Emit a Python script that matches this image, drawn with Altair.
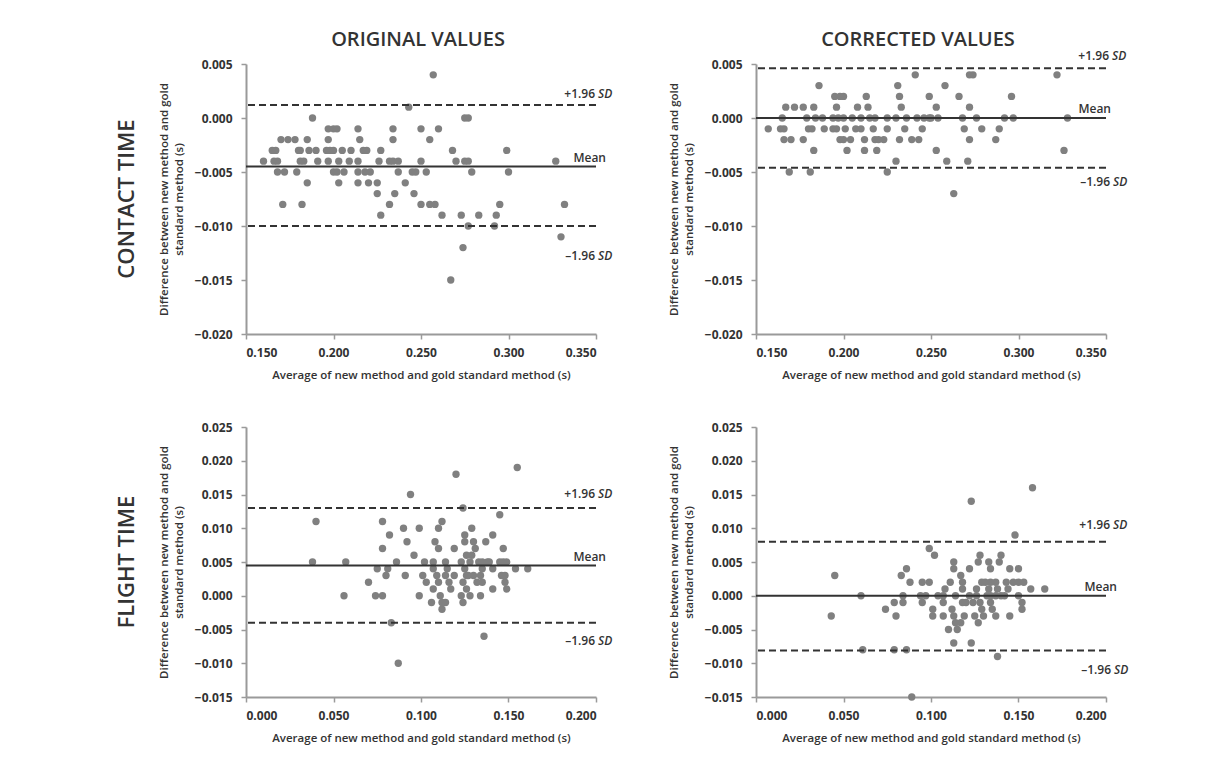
import altair as alt
import pandas as pd

FONT = "Open Sans"
TEXT_COLOR = "#333333"
POINT_COLOR = "#808080"
AXIS_COLOR = "#9a9a9a"

X_TITLE = "Average of new method and gold standard method (s)"
Y_TITLE = ["Difference between new method and gold", "standard method (s)"]

# ---------------- data: {difference: [averages]} ----------------
CT_ORIG = {
    0.004: [0.257],
    0.001: [0.243],
    0.000: [0.188, 0.275, 0.277],
    -0.001: [0.197, 0.200, 0.202, 0.214, 0.234, 0.250, 0.260],
    -0.002: [0.170, 0.174, 0.178, 0.185, 0.197, 0.215, 0.234, 0.255],
    -0.003: [0.165, 0.167, 0.180, 0.181, 0.186, 0.190, 0.196, 0.198, 0.200, 0.205,
             0.210, 0.217, 0.219, 0.227, 0.268, 0.299],
    -0.004: [0.160, 0.166, 0.168, 0.181, 0.183, 0.191, 0.197, 0.203, 0.209, 0.214,
             0.226, 0.232, 0.234, 0.237, 0.250, 0.270, 0.275, 0.277, 0.327],
    -0.005: [0.168, 0.172, 0.179, 0.200, 0.202, 0.206, 0.214, 0.218, 0.221, 0.237,
             0.245, 0.247, 0.253, 0.279, 0.300],
    -0.006: [0.185, 0.203, 0.214, 0.220, 0.225, 0.241],
    -0.007: [0.225, 0.235, 0.246],
    -0.008: [0.171, 0.182, 0.232, 0.250, 0.255, 0.258, 0.295, 0.332],
    -0.009: [0.227, 0.262, 0.273, 0.283, 0.293],
    -0.010: [0.277, 0.292],
    -0.011: [0.330],
    -0.012: [0.274],
    -0.015: [0.267],
}

CT_CORR = {
    0.004: [0.241, 0.272, 0.274, 0.322],
    0.003: [0.186, 0.231, 0.258],
    0.002: [0.195, 0.198, 0.200, 0.213, 0.232, 0.249, 0.266, 0.296],
    0.001: [0.167, 0.172, 0.177, 0.183, 0.196, 0.208, 0.214, 0.233, 0.253, 0.272],
    0.000: [0.165, 0.179, 0.184, 0.188, 0.194, 0.197, 0.200, 0.205, 0.210, 0.215,
            0.218, 0.225, 0.230, 0.236, 0.242, 0.246, 0.249, 0.250, 0.254, 0.268,
            0.276, 0.292, 0.297, 0.328],
    -0.001: [0.157, 0.164, 0.166, 0.180, 0.182, 0.189, 0.194, 0.196, 0.201, 0.207,
             0.210, 0.217, 0.225, 0.235, 0.245, 0.269, 0.279, 0.289],
    -0.002: [0.166, 0.170, 0.177, 0.198, 0.200, 0.204, 0.212, 0.218, 0.220, 0.223,
             0.232, 0.239, 0.243, 0.272, 0.287],
    -0.003: [0.183, 0.202, 0.212, 0.219, 0.253, 0.326],
    -0.004: [0.230, 0.259, 0.271],
    -0.005: [0.169, 0.181, 0.225],
    -0.007: [0.263],
}

FT_ORIG = {
    0.019: [0.155],
    0.018: [0.120],
    0.015: [0.094],
    0.013: [0.124],
    0.012: [0.145],
    0.011: [0.040, 0.078, 0.112],
    0.010: [0.090, 0.099, 0.110, 0.129],
    0.009: [0.082, 0.125, 0.141],
    0.008: [0.092, 0.108, 0.125, 0.130, 0.137],
    0.007: [0.078, 0.110, 0.119, 0.131, 0.147],
    0.006: [0.096, 0.126, 0.129],
    0.005: [0.038, 0.057, 0.086, 0.102, 0.107, 0.114, 0.123, 0.128, 0.133, 0.135,
            0.138, 0.139, 0.145, 0.147, 0.149],
    0.004: [0.075, 0.081, 0.107, 0.115, 0.125, 0.135, 0.141, 0.154, 0.161],
    0.003: [0.080, 0.091, 0.101, 0.109, 0.114, 0.119, 0.126, 0.127, 0.130, 0.134,
            0.146, 0.148],
    0.002: [0.070, 0.103, 0.110, 0.116, 0.124, 0.132, 0.135, 0.148],
    0.001: [0.107, 0.117, 0.126, 0.141, 0.149],
    0.000: [0.056, 0.074, 0.078, 0.099, 0.111, 0.123, 0.128, 0.134],
    -0.001: [0.106, 0.112, 0.114, 0.124],
    -0.002: [0.112],
    -0.004: [0.083],
    -0.006: [0.136],
    -0.010: [0.087],
}

FT_CORR = {
    0.016: [0.158],
    0.014: [0.123],
    0.009: [0.148],
    0.007: [0.099],
    0.006: [0.102, 0.128, 0.140],
    0.005: [0.113, 0.127, 0.133, 0.139],
    0.004: [0.086, 0.113, 0.122, 0.134, 0.145, 0.150],
    0.003: [0.045, 0.083, 0.117],
    0.002: [0.088, 0.095, 0.099, 0.111, 0.118, 0.129, 0.131, 0.134, 0.137, 0.143,
            0.147, 0.150, 0.153],
    0.001: [0.108, 0.118, 0.126, 0.133, 0.138, 0.144, 0.157, 0.165],
    0.000: [0.060, 0.084, 0.094, 0.097, 0.104, 0.107, 0.114, 0.122, 0.126, 0.132,
            0.134, 0.137, 0.140, 0.142, 0.150],
    -0.001: [0.079, 0.084, 0.095, 0.107, 0.118, 0.120, 0.124, 0.128, 0.134, 0.152],
    -0.002: [0.074, 0.101, 0.112, 0.129, 0.135, 0.152],
    -0.003: [0.043, 0.080, 0.101, 0.107, 0.113, 0.119, 0.125, 0.130, 0.137, 0.145],
    -0.004: [0.114, 0.117, 0.127],
    -0.005: [0.110, 0.115],
    -0.007: [0.113, 0.123],
    -0.008: [0.061, 0.079, 0.086],
    -0.009: [0.138],
    -0.015: [0.089],
}

# limits of agreement: [mean, +1.96 SD, -1.96 SD]
CT_ORIG_LIMITS = [-0.0045, 0.0012, -0.0100]
CT_CORR_LIMITS = [0.0000, 0.0046, -0.0046]
FT_ORIG_LIMITS = [0.0045, 0.0130, -0.0040]
FT_CORR_LIMITS = [0.0000, 0.0080, -0.0081]

CT_X_DOMAIN = [0.150, 0.350]
CT_X_TICKS = [0.150, 0.200, 0.250, 0.300, 0.350]
CT_Y_DOMAIN = [-0.020, 0.005]
CT_Y_TICKS = [-0.020, -0.015, -0.010, -0.005, 0.000, 0.005]
FT_X_DOMAIN = [0.000, 0.200]
FT_X_TICKS = [0.000, 0.050, 0.100, 0.150, 0.200]
FT_Y_DOMAIN = [-0.015, 0.025]
FT_Y_TICKS = [-0.015, -0.010, -0.005, 0.000, 0.005, 0.010, 0.015, 0.020, 0.025]

# label placement (right-end offset px, vertical offset px) for +SD, Mean, -SD
TL_LABELS = [(18, -11), (10, -9), (18, 30)]
TR_LABELS = [(22, -12), (5, -9), (23, 14)]
BL_LABELS = [(18, -14), (10, -8), (18, 18)]
BR_LABELS = [(23, -17), (11, -9), (24, 20)]

SD_W = 16
W, H = 350, 270


def panel(rows, xdom, xticks, ydom, yticks, limits, labels, header=None, header_x=175, row_label=None):
    pts = pd.DataFrame([{"avg": a, "diff": d} for d, avgs in rows.items() for a in avgs])
    x = alt.X("avg:Q", scale=alt.Scale(domain=xdom, nice=False, zero=False),
              axis=alt.Axis(values=xticks, format=".3f", title=X_TITLE))
    y = alt.Y("diff:Q", scale=alt.Scale(domain=ydom, nice=False, zero=False),
              axis=alt.Axis(values=yticks, format=".3f", title=Y_TITLE))
    mean, upper, lower = limits
    layers = [
        alt.Chart(pts).mark_circle(size=54, color=POINT_COLOR, opacity=1).encode(x=x, y=y),
        alt.Chart(pd.DataFrame({"diff": [upper, lower]})).mark_rule(
            color=TEXT_COLOR, strokeWidth=2, strokeDash=[7, 4]).encode(y=y),
        alt.Chart(pd.DataFrame({"diff": [mean]})).mark_rule(
            color=TEXT_COLOR, strokeWidth=2).encode(y=y),
    ]
    txt = dict(font=FONT, fontSize=12, fontWeight=600, color=TEXT_COLOR, baseline="middle")
    for (val, word, (r, dy)) in [(upper, "+1.96", labels[0]), (mean, "Mean", labels[1]),
                                 (lower, "\u20131.96", labels[2])]:
        d = pd.DataFrame({"avg": [xdom[1]], "diff": [val], "t": [word]})
        if word == "Mean":
            layers.append(alt.Chart(d).mark_text(align="right", dx=r, dy=dy, **txt)
                          .encode(x=x, y=y, text="t:N"))
        else:
            layers.append(alt.Chart(d).mark_text(align="right", dx=r - SD_W - 3, dy=dy, **txt)
                          .encode(x=x, y=y, text="t:N"))
            d2 = pd.DataFrame({"avg": [xdom[1]], "diff": [val], "t": ["SD"]})
            layers.append(alt.Chart(d2).mark_text(align="left", dx=r - SD_W, dy=dy,
                                                  fontStyle="italic", **txt)
                          .encode(x=x, y=y, text="t:N"))
    if header:
        layers.append(alt.Chart(pd.DataFrame({"t": [header]})).mark_text(
            font=FONT, fontSize=20, fontWeight=600, color=TEXT_COLOR, align="center",
            baseline="alphabetic")
            .encode(x=alt.value(header_x), y=alt.value(-18), text="t:N"))
    if row_label:
        layers.append(alt.Chart(pd.DataFrame({"t": [row_label]})).mark_text(
            font=FONT, fontSize=22, fontWeight=600, color=TEXT_COLOR, angle=270,
            align="center", baseline="alphabetic")
            .encode(x=alt.value(-112), y=alt.value(H / 2), text="t:N"))
    return alt.layer(*layers).properties(width=W, height=H)


tl = panel(CT_ORIG, CT_X_DOMAIN, CT_X_TICKS, CT_Y_DOMAIN, CT_Y_TICKS, CT_ORIG_LIMITS,
           TL_LABELS, header="ORIGINAL VALUES", header_x=172, row_label="CONTACT TIME")
tr = panel(CT_CORR, CT_X_DOMAIN, CT_X_TICKS, CT_Y_DOMAIN, CT_Y_TICKS, CT_CORR_LIMITS,
           TR_LABELS, header="CORRECTED VALUES", header_x=162)
bl = panel(FT_ORIG, FT_X_DOMAIN, FT_X_TICKS, FT_Y_DOMAIN, FT_Y_TICKS, FT_ORIG_LIMITS,
           BL_LABELS, row_label="FLIGHT TIME")
br = panel(FT_CORR, FT_X_DOMAIN, FT_X_TICKS, FT_Y_DOMAIN, FT_Y_TICKS, FT_CORR_LIMITS,
           BR_LABELS)

chart = alt.concat(tl, tr, bl, br, columns=2, spacing={"row": 93, "column": 160},
                   bounds="flush").properties(
    padding={"left": 108, "top": 22, "right": 5, "bottom": 5},
    background="white",
).configure_view(stroke=None).configure_axis(
    grid=False,
    domainColor=AXIS_COLOR, domainWidth=2,
    tickColor=AXIS_COLOR, tickWidth=1.5, tickSize=5,
    labelFont=FONT, labelFontSize=12, labelFontWeight="bold", labelColor=TEXT_COLOR,
    titleFont=FONT, titleFontSize=11.5, titleFontWeight=600, titleColor=TEXT_COLOR,
).configure_axisX(
    labelPadding=8, titlePadding=11,
).configure_axisY(
    labelPadding=9, titlePadding=10, titleLineHeight=15,
)

chart.save("out.html", embed_options={"renderer": "svg", "actions": False})
